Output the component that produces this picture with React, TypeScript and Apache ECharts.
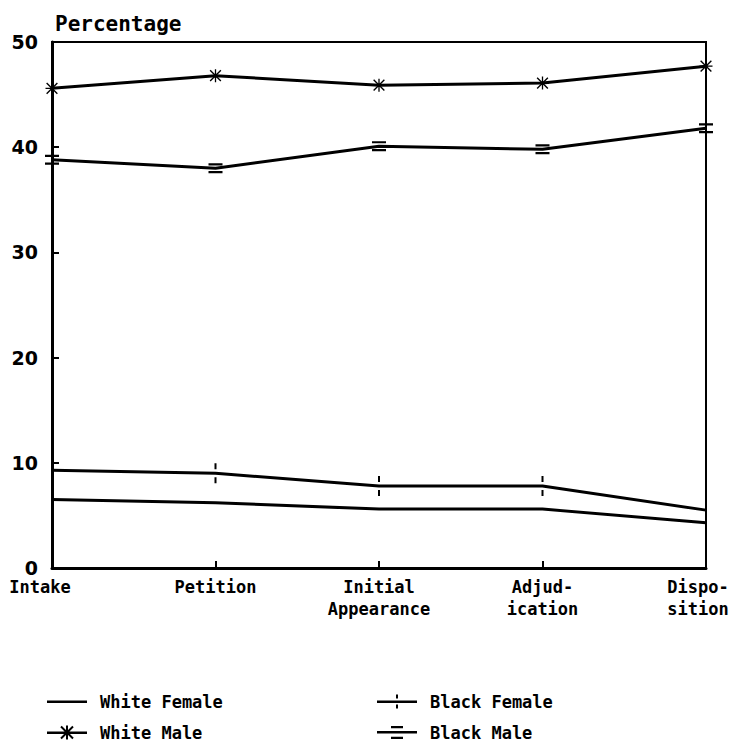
import React, { useEffect, useRef } from "react";
import * as echarts from "echarts";

const categories = ["Intake", "Petition", "Initial\nAppearance", "Adjud-\nication", "Dispo-\nsition"];
const yTicks = [0, 10, 20, 30, 40, 50];
const whiteFemale = [6.5, 6.2, 5.6, 5.6, 4.3];
const blackFemale = [9.3, 9.0, 7.8, 7.8, 5.5];
const whiteMale = [45.6, 46.8, 45.9, 46.1, 47.7];
const blackMale = [38.8, 38.0, 40.1, 39.8, 41.8];

const FONT = "DejaVu Sans Mono";
const asterisk =
  "path://M9 0 h2 v20 h-2z M0 9 h20 v2 h-20z M1 2.5 L2.5 1 L19 17.5 L17.5 19 Z M17.5 1 L19 2.5 L2.5 19 L1 17.5 Z";
const vbars = "path://M0 0 h2 v6 h-2z M0 14 h2 v6 h-2z";
const dbars = "path://M0 0 h10 v2 h-10z M0 7 h10 v2 h-10z";

const legendLine = "M0 6 h40 v2.5 h-40z";
const iconWF = "path://M0 0 h0.01 v0.01 h-0.01z M0 13.99 h0.01 v0.01 h-0.01z " + legendLine;
const iconWM =
  "path://" +
  legendLine +
  " M19 0 h2 v14 h-2z M13.3 1.7 L14.7 0.3 L26.7 12.3 L25.3 13.7 Z M25.3 0.3 L26.7 1.7 L14.7 13.7 L13.3 12.3 Z";
const iconBF = "path://" + legendLine + " M19 0 h2 v4 h-2z M19 10 h2 v4 h-2z";
const iconBM = "path://" + legendLine + " M14 1 h12 v2.2 h-12z M14 11.8 h12 v2.2 h-12z";

export default function App() {
  const ref = useRef<HTMLDivElement>(null);
  useEffect(() => {
    if (!ref.current) return;
    const chart = echarts.init(ref.current, null, { renderer: "svg" });
    const lineStyle = { color: "#000", width: 3 };
    const legendText = { fontFamily: FONT, fontWeight: "bold", fontSize: 17, color: "#000", padding: [0, 0, 0, 8] };
    chart.setOption({
      animation: false,
      backgroundColor: "#fff",
      title: {
        text: "Percentage",
        left: 50,
        top: 8,
        textStyle: { fontFamily: FONT, fontWeight: "bold", fontSize: 21, color: "#000" },
      },
      grid: {
        left: 52,
        right: 28,
        top: 42,
        bottom: 179,
        outerBoundsMode: "none",
        containLabel: false,
        show: true,
        borderColor: "#000",
        borderWidth: 2,
        backgroundColor: "transparent",
      },
      xAxis: {
        type: "category",
        boundaryGap: false,
        data: categories.map((c, i) =>
          i === 0
            ? { value: c, textStyle: { padding: [0, 24, 0, 0] } }
            : i === categories.length - 1
            ? { value: c, textStyle: { padding: [0, 16, 0, 0] } }
            : c
        ),
        axisLine: { lineStyle: { color: "#000", width: 3 } },
        axisTick: { inside: true, length: 7, lineStyle: { color: "#000", width: 2 } },
        axisLabel: {
          interval: 0,
          margin: 8,
          color: "#000",
          fontFamily: FONT,
          fontWeight: "bold",
          fontSize: 17,
          lineHeight: 22,
          hideOverlap: false,
        },
        splitLine: { show: false },
      },
      yAxis: {
        type: "value",
        min: 0,
        max: 50,
        interval: 10,
        axisLine: { show: true, lineStyle: { color: "#000", width: 3 } },
        axisTick: { show: true, inside: true, length: 7, lineStyle: { color: "#000", width: 2 } },
        axisLabel: {
          margin: 14,
          color: "#000",
          fontFamily: "DejaVu Sans",
          fontWeight: "bold",
          fontSize: 19,
          formatter: (v: number) => (yTicks.includes(v) ? String(v) : ""),
        },
        splitLine: { show: false },
      },
      legend: [
        {
          orient: "vertical",
          left: 42,
          top: 688,
          itemWidth: 40,
          itemHeight: 14,
          itemGap: 14,
          data: [
            { name: "White Female", icon: iconWF },
            { name: "White Male", icon: iconWM },
          ],
          textStyle: legendText,
        },
        {
          orient: "vertical",
          left: 372,
          top: 688,
          itemWidth: 40,
          itemHeight: 14,
          itemGap: 14,
          data: [
            { name: "Black Female", icon: iconBF },
            { name: "Black Male", icon: iconBM },
          ],
          textStyle: legendText,
        },
      ],
      series: [
        {
          name: "White Female",
          type: "line",
          data: whiteFemale,
          symbol: "none",
          lineStyle,
          itemStyle: { color: "#000" },
        },
        {
          name: "Black Female",
          type: "line",
          data: blackFemale,
          symbol: vbars,
          symbolSize: [2, 20],
          symbolKeepAspect: false,
          lineStyle,
          itemStyle: { color: "#000" },
        },
        {
          name: "White Male",
          type: "line",
          data: whiteMale,
          symbol: asterisk,
          symbolSize: 13,
          lineStyle,
          itemStyle: { color: "#000" },
        },
        {
          name: "Black Male",
          type: "line",
          data: blackMale,
          symbol: dbars,
          symbolSize: [14, 10],
          symbolKeepAspect: false,
          lineStyle,
          itemStyle: { color: "#000" },
        },
      ],
    });
    return () => chart.dispose();
  }, []);
  return <div ref={ref} style={{ width: 734, height: 747, position: "absolute", left: 0, top: 0 }} />;
}
